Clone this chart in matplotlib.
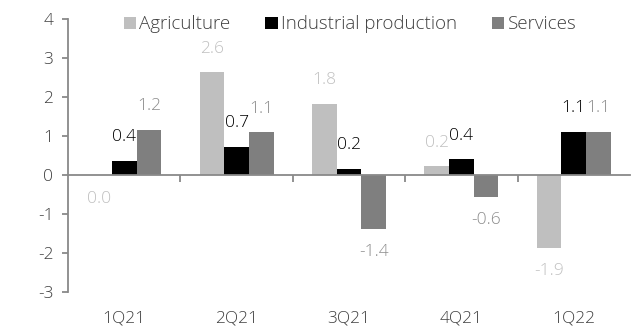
import matplotlib
matplotlib.use("Agg")
import matplotlib.pyplot as plt
import matplotlib.transforms as mtransforms
import numpy as np

quarters = ["1Q21", "2Q21", "3Q21", "4Q21", "1Q22"]
series_names = ["Agriculture", "Industrial production", "Services"]
agriculture = [0.0, 2.63, 1.82, 0.22, -1.86]
industrial = [0.36, 0.72, 0.16, 0.40, 1.11]
services = [1.16, 1.09, -1.38, -0.56, 1.11]
y_ticks = [-3, -2, -1, 0, 1, 2, 3, 4]

bar_colors = ["#bfbfbf", "#000000", "#7f7f7f"]
label_colors = ["#c0c0c0", "#000000", "#8c8c8c"]
text_color = "#404040"
axis_color = "#898989"

plt.rcParams["font.family"] = ["Open Sans", "DejaVu Sans"]
plt.rcParams["font.weight"] = "light"

fig = plt.figure(figsize=(6.32, 3.29), dpi=100)
ax = fig.add_axes([0.1076, 0.1125, 0.8892, 0.8297])

x = np.arange(len(quarters))
width = 0.22
all_series = [agriculture, industrial, services]
for i, (vals, name) in enumerate(zip(all_series, series_names)):
    pos = x + (i - 1) * width
    ax.bar(pos, vals, width=width, color=bar_colors[i], label=name, zorder=2)
    for px, v in zip(pos, vals):
        off = 17 if v > 0 else -17
        ax.annotate(f"{v:.1f}", (px, v), xytext=(0, off), textcoords="offset points",
                    ha="center", va="center", fontsize=12.5, color=label_colors[i])

ax.set_xlim(-0.5, len(quarters) - 0.5)
ax.set_ylim(-3, 4)
ax.set_yticks(y_ticks)
ax.set_yticklabels([str(t) for t in y_ticks])

for s in ["top", "right"]:
    ax.spines[s].set_visible(False)
ax.spines["bottom"].set_position(("data", 0))
for s in ["left", "bottom"]:
    ax.spines[s].set_color(axis_color)
    ax.spines[s].set_linewidth(1.3)

# boundary ticks on the zero line, category names at the bottom
ax.set_xticks(x[:-1] + 0.5)
ax.set_xticklabels([])
ax.tick_params(axis="x", length=5, color=axis_color, width=1.3, direction="out")
ax.tick_params(axis="y", length=4.5, color=axis_color, width=1.3, labelsize=12.5,
               labelcolor=text_color, pad=6)
trans = mtransforms.blended_transform_factory(ax.transData, ax.transAxes)
for xi, q in zip(x, quarters):
    ax.text(xi, -0.098, q, transform=trans, ha="center", va="center",
            fontsize=12.5, color=text_color)

leg = ax.legend(loc="upper center", bbox_to_anchor=(0.502, 1.075), ncol=3, frameon=False,
                fontsize=13.5, handlelength=0.65, handleheight=0.65, handletextpad=0.2,
                columnspacing=1.85, labelcolor=text_color)

fig.savefig("out.png", dpi=100)
